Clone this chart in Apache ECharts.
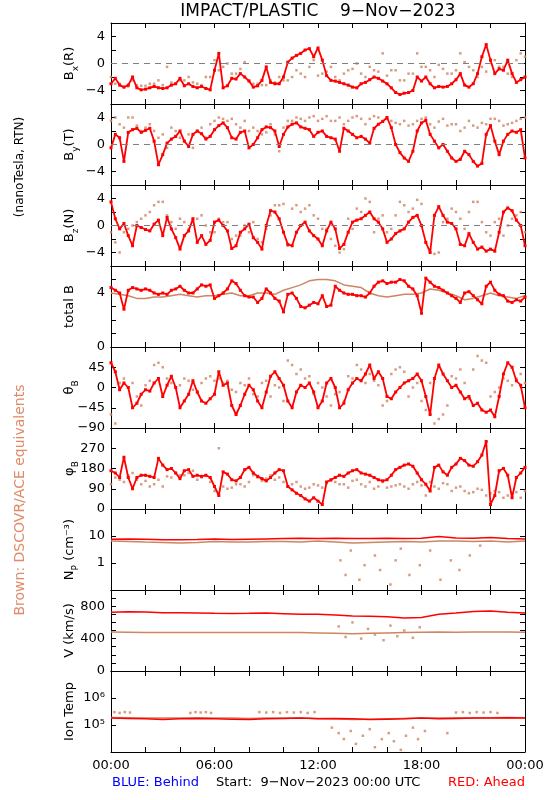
<!DOCTYPE html>
<html><head><meta charset="utf-8">
<script src="https://cdn.jsdelivr.net/npm/echarts@6/dist/echarts.min.js"></script>
<style>html,body{margin:0;padding:0;background:#fff}#c{width:550px;height:800px}</style>
</head><body><div id="c"></div>
<script>
// ---- data (hours from 9-Nov-2023 00:00 UTC) ----
// red = STEREO Ahead, 15-min samples; brown = DSCOVR/ACE, 30-min samples (two interleaved sets)
const bxRed = [-3,-2.2,-3.2,-3.5,-3.2,-2.0,-3.6,-3.9,-3.8,-3.6,-3.4,-3.6,-3.7,-3.6,-3.2,-3.0,-2.2,-3.3,-3.0,-3.4,-3.6,-3.4,-3.7,-3.9,-1.0,1.5,-3.6,-3.3,-2.2,-2.3,-1.5,-2.0,-2.6,-3.5,-3.3,-2.5,-0.5,-2.8,-3.0,-3.0,-2.0,0.2,0.8,1.2,1.5,2.0,2.2,1.0,2.3,0.5,-1.8,-2.5,-2.6,-2.8,-3.0,-3.2,-3.5,-3.6,-3.0,-2.8,-2.4,-2.0,-2.2,-2.6,-3.0,-3.6,-4.3,-4.6,-4.4,-4.3,-4.0,-2.0,-2.6,-2.0,-3.0,-3.6,-3.4,-3.5,-3.4,-3.0,-2.4,-1.5,-3.2,-3.5,-3.0,-1.5,1.0,2.8,0.5,-1.5,-0.8,-1.0,0.5,-1.5,-2.8,-2.4,-2.0];
const bxBrown = [-2.0,-3.0,-3.4,-3.2,-3.3,-3.0,-3.2,-2.8,-2.5,-2.0,-3.0,-2.0,0.5,-0.5,-1.5,-0.8,-2.5,-3.0,-3.2,-2.8,-2.5,-2.0,-1.5,-0.5,-1.8,-1.2,-2.0,-1.5,-0.8,-1.5,-0.5,-1.2,-1.8,-1.0,-2.5,-1.5,-0.5,-1.0,-0.2,-1.5,-1.0,0.2,-1.0,-0.5,0.5,-0.5,-1.5,0.5,1.0];
const bxBrown2 = [-3.0,-3.5,-2.5,-3.3,-3.0,-2.5,-0.5,-3.0,-2.5,-2.8,-3.2,-2.0,-1.0,0.0,-1.5,0.2,-3.0,-3.2,-2.5,-2.0,-2.5,-1.0,-2.0,0.5,-1.5,-0.5,-2.5,-1.0,0.0,-2.0,-1.0,1.5,-1.0,-2.5,-1.5,1.5,-0.5,-2.0,-0.8,-1.5,1.5,-0.5,-2.0,-1.2,0.5,-0.5,-2.0,1.5];

const byRed = [-0.5,1.5,1.0,-2.5,1.8,2.2,2.4,1.8,2.1,2.4,0.5,-3.0,-1.5,0.2,0.8,1.2,2.0,0.5,-0.3,1.5,2.0,1.6,0.8,1.2,2.2,2.8,3.2,2.5,1.0,0.8,1.8,2.0,-0.5,0.0,1.0,2.2,2.6,2.5,2.0,-0.3,1.5,2.6,3.0,3.2,2.6,2.4,2.2,1.2,1.8,2.0,1.2,1.0,0.8,-1.0,2.4,2.0,1.5,1.0,1.2,0.8,0.2,2.4,3.0,3.4,4.0,2.5,0.0,-1.2,-2.0,-2.5,-1.0,2.0,3.2,3.6,1.5,0.5,-0.5,0.0,-1.0,-2.0,-2.5,-2.2,-1.0,-1.5,-2.5,-3.2,-2.8,1.5,2.8,0.5,-1.5,0.5,1.5,2.0,1.8,2.2,-2.0];
const byBrown = [3.5,3.0,4.0,2.8,2.5,2.0,1.5,2.5,1.0,1.5,2.0,1.0,3.5,3.8,3.8,2.5,2.0,2.0,1.8,1.5,2.5,3.5,3.8,4.0,3.5,4.2,3.5,3.0,4.0,3.8,3.8,4.0,3.8,3.2,3.5,3.0,3.8,3.0,3.4,2.8,3.0,2.5,2.8,3.2,3.8,3.5,3.0,3.5,4.0];
const byBrown2 = [4.0,2.5,4.0,2.0,3.0,1.0,-0.5,2.0,0.5,-0.5,2.5,3.0,4.0,3.5,3.0,3.5,2.5,1.5,3.0,-1.0,3.5,4.0,3.5,4.2,3.8,3.5,4.0,3.5,4.2,3.0,4.2,3.5,3.5,3.0,2.8,3.5,4.0,2.5,3.8,3.0,2.0,3.5,2.5,3.0,3.8,2.8,3.2,3.8];

const bzRed = [3.5,1.0,-0.5,0.3,-1.5,-3.0,0.0,-0.3,-0.6,-0.8,0.2,0.8,-1.5,1.2,-0.5,-1.8,-3.5,-1.5,-0.8,1.0,-2.5,-1.5,-2.8,-2.2,0.5,0.8,0.0,-0.8,-3.4,-3.0,-1.0,-0.5,0.2,-1.8,-2.5,-3.5,0.0,2.2,2.0,1.0,-1.0,-2.8,-3.0,-1.0,0.0,0.5,-0.8,-1.5,-2.0,-3.0,-0.8,0.5,-0.5,-3.4,-2.8,-1.0,0.5,0.8,1.0,1.5,2.0,1.0,0.5,-0.5,-2.5,-2.0,-1.2,-0.8,-0.5,0.5,1.2,1.5,0.0,-2.5,-4.0,1.5,2.8,1.5,0.5,0.3,-0.5,-2.8,-3.0,-1.2,-2.5,-3.5,-3.2,-3.8,-3.5,-3.8,-1.0,2.0,2.6,2.2,0.8,0.0,-3.0];
const bzBrown = [-1.0,-4.0,-0.5,0.5,1.5,3.0,3.5,0.5,1.0,-0.5,1.0,0.0,-1.0,0.5,-2.0,-1.5,-1.0,-2.0,-0.5,3.0,3.2,2.5,2.0,3.0,1.0,-0.5,-3.0,-3.5,-0.5,2.0,3.5,1.0,-1.0,1.5,3.0,2.5,3.2,-3.5,-4.0,1.0,2.0,-0.5,3.5,0.5,-1.5,1.0,0.0,1.5,-1.0];
const bzBrown2 = [-2.5,-1.0,0.0,1.0,2.0,3.5,1.5,-0.5,0.5,1.0,1.5,-1.0,1.0,0.5,-1.5,0.0,0.5,-2.5,1.5,3.0,-3.0,3.0,2.5,1.5,-0.5,-2.0,-4.0,1.0,2.5,4.0,-1.0,1.5,-0.5,3.5,2.0,3.8,-2.5,-4.2,0.5,2.5,1.0,2.0,3.5,-1.0,0.5,-1.5,1.0,2.0];

const btRed = [4.4,4.2,4.0,2.8,4.2,4.4,4.3,4.2,4.3,4.2,4.0,3.9,4.0,3.9,4.2,4.3,4.5,4.2,4.0,4.0,4.3,4.6,4.5,4.6,3.6,3.8,4.0,4.3,4.9,4.7,4.2,3.8,3.7,3.7,3.3,3.6,4.3,4.0,3.6,3.4,2.6,3.9,4.0,3.6,3.0,2.9,3.1,3.3,3.2,3.8,3.0,3.1,4.5,4.2,4.0,3.9,3.9,3.8,3.8,3.7,4.0,4.5,4.8,4.9,4.7,4.8,4.8,5.0,4.9,4.5,4.3,3.8,2.5,5.1,4.8,4.5,4.4,4.2,4.0,3.8,3.6,3.3,4.0,4.1,3.8,3.5,3.2,4.5,4.8,4.2,3.9,3.8,3.4,3.3,3.5,3.4,3.7];
const btBrown = [4.0,3.9,3.8,3.6,3.6,3.7,3.7,3.8,3.9,3.8,3.7,3.8,3.8,3.9,4.0,3.8,3.8,4.0,4.0,3.9,4.2,4.4,4.6,4.9,5.0,5.0,4.9,4.6,4.5,4.4,4.0,3.8,3.7,3.8,3.9,3.9,4.0,4.3,4.2,4.0,3.8,3.5,3.6,3.8,4.0,3.8,3.7,3.6,3.8];

const thRed = [55,35,-5,10,0,-45,-35,-15,-5,-8,10,20,-20,5,25,0,-45,-30,-15,15,-10,-30,-35,-25,-15,35,5,10,-40,-60,-40,-15,5,-5,-30,-45,-10,25,35,20,5,-30,-45,-10,5,0,10,-10,-45,-30,10,20,0,-45,-35,-5,10,20,15,30,50,20,35,20,-20,-25,-10,0,10,15,20,30,15,-20,-60,20,50,30,15,0,5,-10,-25,-20,-40,-35,-50,-55,-50,-65,-20,30,55,45,15,5,-45];
const thBrown = [-60,10,0,-20,5,50,45,10,5,15,-10,20,15,10,-5,10,20,-20,15,5,-30,50,40,25,10,-20,-15,-30,20,40,30,5,-30,40,35,0,-30,10,-70,-40,20,10,40,60,-20,0,15,20,10];
const thBrown2 = [-80,20,10,-40,15,55,20,0,20,-5,10,25,20,15,-10,5,-15,10,-20,0,60,30,20,-15,0,-40,-10,25,50,10,15,-40,30,45,-20,10,-50,-80,-60,25,40,-25,70,55,-10,20,5,30];

const phRed = [170,160,140,230,140,90,140,150,150,145,140,225,195,175,180,160,135,170,175,145,150,145,150,140,100,60,165,155,130,125,140,175,185,160,145,135,125,140,160,175,170,100,85,70,60,45,35,50,35,20,120,130,140,150,145,160,170,175,160,155,150,140,130,125,130,150,175,185,195,200,190,160,130,110,80,185,195,165,150,185,200,225,215,195,190,210,240,300,20,60,170,180,150,50,140,160,185];
const phBrown = [110,130,150,130,125,110,100,140,150,160,130,150,80,100,95,110,120,140,135,130,120,110,100,95,105,115,120,110,125,110,120,100,95,105,100,110,105,120,90,110,95,80,75,85,70,75,60,75,80];
const phBrown2 = [140,120,160,110,100,130,145,160,150,170,140,120,270,90,110,100,150,125,150,140,100,120,90,110,95,125,110,95,130,100,90,120,100,110,90,120,60,100,115,80,100,70,90,60,80,50,70,50];

// hourly samples + scattered brown outliers (time, value)
const npRed = [7.5,7.8,7.6,7.3,7.2,7.4,7.8,7.4,7.6,7.8,8.0,8.2,8.0,8.2,8.0,8.0,8.3,8.0,8.3,9.5,8.5,8.2,8.8,8.0,7.8];
const npBrown = [6.5,6.3,6.0,5.8,5.5,5.8,6.2,6.0,6.0,6.2,6.3,6.0,6.5,6.0,5.5,5.8,6.0,6.2,6.0,6.5,6.5,6.3,6.5,6.0,6.5];
const npBrownScatT = [13.3,13.6,13.9,14.4,14.7,15.3,15.6,16.2,16.5,16.8,17.3,17.9,18.5,19.1,19.7,20.2,20.8,21.4];
const npBrownScatV = [1.25,0.36,2.9,0.24,0.83,1.9,0.55,0.16,1.25,3.4,0.36,0.83,2.9,0.24,1.25,0.55,1.9,4.4];

const vRed = [725,730,728,720,718,715,712,710,712,715,708,700,700,690,680,675,670,655,660,700,715,735,740,725,715];
const vBrown = [480,478,475,475,476,475,474,475,476,475,474,475,470,465,460,465,470,475,478,480,478,480,482,480,478];
const vBrownScatT = [13.2,13.6,14.0,14.5,14.9,15.3,15.8,16.2,16.6,17.0,17.5,17.9];
const vBrownScatV = [550,420,600,400,520,450,380,560,430,500,410,540];

const tRed = [1.8e5,1.75e5,1.7e5,1.6e5,1.7e5,1.75e5,1.7e5,1.65e5,1.6e5,1.7e5,1.75e5,1.8e5,1.7e5,1.75e5,1.7e5,1.6e5,1.65e5,1.7e5,1.8e5,1.7e5,1.75e5,1.8e5,1.8e5,1.85e5,1.8e5];
const tBrown = [1.9e5,1.85e5,1.8e5,1.8e5,1.8e5,1.85e5,1.8e5,1.8e5,1.75e5,1.8e5,1.8e5,1.8e5,1.75e5,1.7e5,1.6e5,1.65e5,1.7e5,1.75e5,1.8e5,1.8e5,1.85e5,1.8e5,1.85e5,1.9e5,1.85e5];
const tBrownScatT = [0.2,0.5,0.8,1.1,4.6,4.9,5.2,5.5,5.8,8.6,9.0,9.4,9.8,10.2,10.6,11.0,11.4,11.8,20.0,20.4,20.8,21.2,21.6,22.0,22.4,
                     12.8,13.2,13.5,13.9,14.2,14.6,15.0,15.3,15.7,16.1,16.4,16.8,17.1,17.5,17.8,18.2,19.5];
const tBrownScatV = [3e5,2.8e5,3e5,2.9e5,2.8e5,3e5,2.9e5,3e5,2.8e5,3e5,2.9e5,3e5,2.8e5,3e5,2.9e5,3e5,2.8e5,3e5,2.9e5,3e5,2.8e5,3e5,2.9e5,3e5,2.8e5,
                     8e4,5e4,3e4,6e4,2e4,4e4,7e4,1.5e4,3e4,5e4,2.5e4,1.2e4,4e4,8e4,3e4,6e4,5e4];

const timeLabels = ['00:00','06:00','12:00','18:00','00:00'];

// ---- layout ----
const FONT = 'DejaVu Sans';
const RED = '#ff0000', BROWN = '#cd8564';
const L = 111, W = 414, TOP0 = 23, PH = 81;

const pairs = (arr, step, off) => arr.map((v, i) => [(off || 0) + i * step, v]);
const zip = (ts, vs) => ts.map((t, i) => [t, vs[i]]);
const nearLog = (v, e) => Math.abs(Math.log10(v) - e) < 0.01;
const signed = v => String(v).replace('-', '\u2212');

const rich = {
  a: {fontFamily: FONT, fontSize: 13, color: '#000', lineHeight: 20, verticalAlign: 'middle'},
  s: {fontFamily: FONT, fontSize: 9, color: '#000', lineHeight: 9, verticalAlign: 'bottom'}
};

const panels = [
  {name: '{a|B}{s|x}{a|(R)}', min: -6, max: 6, interval: 2, lab: v => [-4,0,4].includes(v) ? signed(v) : '',
   red: pairs(bxRed, 0.25), brown: pairs(bxBrown, 0.5).concat(pairs(bxBrown2, 0.5, 0.25)), zero: true, dense: true},
  {name: '{a|B}{s|y}{a|(T)}', min: -6, max: 6, interval: 2, lab: v => [-4,0,4].includes(v) ? signed(v) : '',
   red: pairs(byRed, 0.25), brown: pairs(byBrown, 0.5).concat(pairs(byBrown2, 0.5, 0.25)), zero: true, dense: true},
  {name: '{a|B}{s|z}{a|(N)}', min: -6, max: 6, interval: 2, lab: v => [-4,0,4].includes(v) ? signed(v) : '',
   red: pairs(bzRed, 0.25), brown: pairs(bzBrown, 0.5).concat(pairs(bzBrown2, 0.5, 0.25)), zero: true, dense: true},
  {name: '{a|total B}', min: 0, max: 6, interval: 1, lab: v => [0,4].includes(v) ? String(v) : '',
   red: pairs(btRed, 0.25), brown: pairs(btBrown, 0.5), brownLine: true, dense: true},
  {name: '{a|\u03b8}{s|B}', min: -90, max: 90, interval: 45, lab: v => v === 90 ? '' : signed(v),
   red: pairs(thRed, 0.25), brown: pairs(thBrown, 0.5).concat(pairs(thBrown2, 0.5, 0.25)), dense: true},
  {name: '{a|\u03c6}{s|B}', min: 0, max: 360, interval: 90, lab: v => v === 360 ? '' : String(v),
   red: pairs(phRed, 0.25), brown: pairs(phBrown, 0.5).concat(pairs(phBrown2, 0.5, 0.25)), dense: true},
  {name: '{a|N}{s|P}{a| (cm\u207b\u00b3)}', log: true, min: 0.1, max: 100, lab: v => nearLog(v, 0) ? '1' : nearLog(v, 1) ? '10' : '',
   red: pairs(npRed, 1), brown: pairs(npBrown, 1), brownLine: true, extra: zip(npBrownScatT, npBrownScatV)},
  {name: '{a|V (km/s)}', min: 0, max: 1000, interval: 100, lab: v => [0,400,800].includes(v) ? String(v) : '',
   red: pairs(vRed, 1), brown: pairs(vBrown, 1), brownLine: true, extra: zip(vBrownScatT, vBrownScatV)},
  {name: '{a|Ion Temp}', log: true, min: 1e4, max: 1e7, lab: v => nearLog(v, 5) ? '10\u2075' : nearLog(v, 6) ? '10\u2076' : '',
   red: pairs(tRed, 1), brown: pairs(tBrown, 1), brownLine: true, extra: zip(tBrownScatT, tBrownScatV)}
];

const grid = [], xAxis = [], yAxis = [], series = [];
const axisLine = {show: true, onZero: false, lineStyle: {color: '#000', width: 1}};
const tick = {show: true, inside: true, length: 5, lineStyle: {color: '#000'}};
panels.forEach((p, i) => {
  grid.push({left: L, width: W, top: TOP0 + PH * i, height: PH, containLabel: false});
  const last = i === panels.length - 1;
  xAxis.push({type: 'value', gridIndex: i, min: 0, max: 24, interval: 2, position: 'bottom',
    axisLine, splitLine: {show: false}, axisTick: tick,
    axisLabel: {show: last, margin: 7, fontFamily: FONT, fontSize: 13, color: '#000',
      formatter: v => (v % 6 === 0) ? timeLabels[v / 6] : ''}});
  xAxis.push({type: 'value', gridIndex: i, min: 0, max: 24, interval: 2, position: 'top',
    axisLine, splitLine: {show: false}, axisTick: tick, axisLabel: {show: false}});
  const yBase = p.log ? {type: 'log', logBase: 10, min: p.min, max: p.max}
                      : {type: 'value', min: p.min, max: p.max, interval: p.interval};
  yAxis.push(Object.assign({}, yBase, {gridIndex: i, position: 'left', axisLine, splitLine: {show: false},
    axisTick: tick,
    axisLabel: {show: true, margin: 6, fontFamily: FONT, fontSize: 13, color: '#000', formatter: p.lab,
      showMinLabel: true, showMaxLabel: true},
    name: p.name, nameLocation: 'middle', nameRotate: 90, nameGap: 31, nameMoveOverlap: false,
    nameTextStyle: {rich}}));
  yAxis.push(Object.assign({}, yBase, {gridIndex: i, position: 'right', axisLine, splitLine: {show: false},
    axisTick: tick, axisLabel: {show: false}}));
  const xi = 2 * i, yi = 2 * i;
  if (p.brownLine) {
    series.push({type: 'line', xAxisIndex: xi, yAxisIndex: yi, data: p.brown, showSymbol: false,
      lineStyle: {color: BROWN, width: 1.5}, silent: true, animation: false, z: 2});
  } else {
    series.push({type: 'scatter', xAxisIndex: xi, yAxisIndex: yi, data: p.brown, symbol: 'rect', symbolSize: 2.5,
      itemStyle: {color: BROWN}, silent: true, animation: false, z: 2});
  }
  if (p.extra) {
    series.push({type: 'scatter', xAxisIndex: xi, yAxisIndex: yi, data: p.extra, symbol: 'rect', symbolSize: 2.5,
      itemStyle: {color: BROWN}, silent: true, animation: false, z: 2});
  }
  const s = {type: 'line', xAxisIndex: xi, yAxisIndex: yi, data: p.red,
    showSymbol: !!p.dense, symbol: 'rect', symbolSize: 3, itemStyle: {color: RED},
    lineStyle: {color: RED, width: p.dense ? 1.8 : 1.5}, silent: true, animation: false, z: 3};
  if (p.zero) {
    s.markLine = {silent: true, symbol: 'none', label: {show: false}, animation: false,
      lineStyle: {color: '#808080', type: [6, 5], width: 1}, data: [{yAxis: 0}]};
  }
  series.push(s);
});

const txt = (x, y, text, opts) => ({type: 'text', x, y,
  style: Object.assign({text, fill: '#000', font: '13px ' + FONT, align: 'left', verticalAlign: 'middle'}, opts || {})});

const graphic = [
  txt(318, 12, 'IMPACT/PLASTIC    9\u2212Nov\u22122023', {font: '17px ' + FONT, align: 'center'}),
  txt(112, 783, 'BLUE: Behind', {fill: '#0000ff'}),
  txt(216, 783, 'Start:  9\u2212Nov\u22122023 00:00 UTC'),
  txt(525, 783, 'RED: Ahead', {fill: RED, align: 'right'}),
  Object.assign(txt(20, 167, '(nanoTesla, RTN)', {align: 'center', font: '12px ' + FONT}), {rotation: Math.PI / 2}),
  Object.assign(txt(20, 500, 'Brown: DSCOVR/ACE equivalents', {align: 'center', fill: '#e08a68', font: '14px ' + FONT}), {rotation: Math.PI / 2})
];

const chart = echarts.init(document.getElementById('c'), null, {renderer: 'canvas'});
chart.setOption({animation: false, grid, xAxis, yAxis, series, graphic});
</script></body></html>
